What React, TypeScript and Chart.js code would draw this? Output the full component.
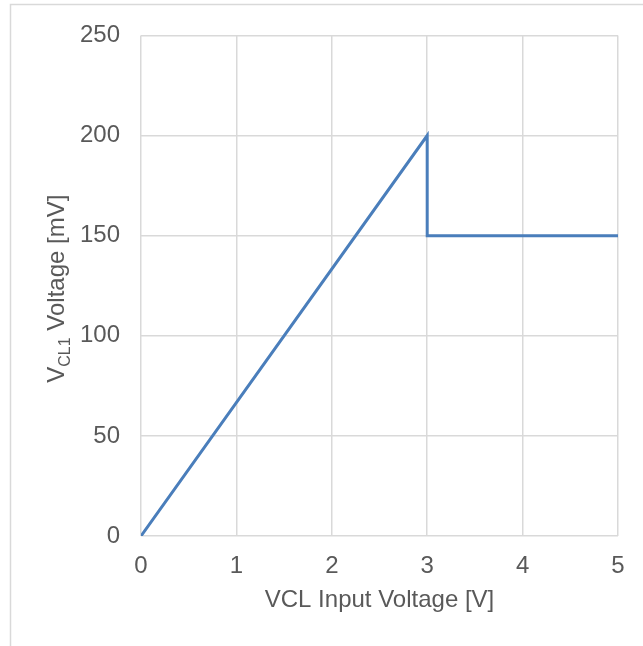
import React, { useEffect, useRef } from "react";
import { Chart, registerables } from "chart.js";

Chart.register(...registerables);

const inputVoltage = [0, 3, 3, 5];
const outputVoltage = [0, 200, 150, 150];
const xTicks = [0, 1, 2, 3, 4, 5];
const yTicks = [0, 50, 100, 150, 200, 250];
const xTitle = "VCL Input Voltage [V]";
const yTitleMain = "V";
const yTitleSub = "CL1";
const yTitleRest = " Voltage [mV]";

const FONT = "'Liberation Sans', Arial, sans-serif";
const TEXT = "#595959";
const GRID = "#d9d9d9";

const framePlugin = {
  id: "frame",
  beforeDraw(chart: any) {
    const ctx = chart.ctx;
    ctx.save();
    ctx.fillStyle = "#ffffff";
    ctx.fillRect(0, 0, chart.width, chart.height);
    ctx.strokeStyle = GRID;
    ctx.lineWidth = 1.5;
    ctx.strokeRect(10.5, 4.5, 800, 800);
    ctx.restore();
  },
  afterDraw(chart: any) {
    const ctx = chart.ctx;
    const area = chart.chartArea;
    ctx.save();
    ctx.fillStyle = TEXT;
    ctx.textBaseline = "alphabetic";
    ctx.textAlign = "left";
    const big = `24px ${FONT}`;
    const small = `16px ${FONT}`;
    ctx.font = big;
    const w1 = ctx.measureText(yTitleMain).width;
    const w3 = ctx.measureText(yTitleRest).width;
    ctx.font = small;
    const w2 = ctx.measureText(yTitleSub).width;
    const total = w1 + w2 + w3;
    const cy = (area.top + area.bottom) / 2 + 3;
    ctx.translate(63.5, cy + total / 2);
    ctx.rotate(-Math.PI / 2);
    ctx.font = big;
    ctx.fillText(yTitleMain, 0, 0);
    ctx.font = small;
    ctx.fillText(yTitleSub, w1, 6);
    ctx.font = big;
    ctx.fillText(yTitleRest, w1 + w2, 0);
    ctx.restore();
  },
};

export default function App() {
  const ref = useRef<HTMLCanvasElement | null>(null);

  useEffect(() => {
    if (!ref.current) return;
    const data = inputVoltage.map((x, i) => ({ x, y: outputVoltage[i] }));
    const chart = new Chart(ref.current, {
      type: "scatter",
      data: {
        datasets: [
          {
            data,
            showLine: true,
            borderColor: "#4a7ebb",
            borderWidth: 3,
            pointRadius: 0,
            pointHoverRadius: 0,
            fill: false,
            tension: 0,
          },
        ],
      },
      options: {
        responsive: false,
        animation: false,
        events: [],
        layout: { padding: { left: 0, top: 34, right: 25, bottom: 0 } },
        plugins: {
          legend: { display: false },
          tooltip: { enabled: false },
          title: { display: false },
        },
        scales: {
          x: {
            type: "linear",
            min: xTicks[0],
            max: xTicks[xTicks.length - 1],
            afterBuildTicks: (s: any) => {
              s.ticks = xTicks.map((v) => ({ value: v }));
            },
            afterFit: (s: any) => {
              s.height = 110;
            },
            grid: { color: GRID, lineWidth: 1.5, drawTicks: false },
            border: { display: false },
            ticks: {
              padding: 16,
              color: TEXT,
              font: { family: FONT, size: 24 },
              maxRotation: 0,
            },
            title: {
              display: true,
              text: xTitle,
              color: TEXT,
              font: { family: FONT, size: 24 },
              padding: { top: 0, bottom: 31 },
            },
          },
          y: {
            type: "linear",
            min: yTicks[0],
            max: yTicks[yTicks.length - 1],
            afterBuildTicks: (s: any) => {
              s.ticks = yTicks.map((v) => ({ value: v }));
            },
            afterFit: (s: any) => {
              s.width = 141;
            },
            grid: { color: GRID, lineWidth: 1.5, drawTicks: false },
            border: { display: false },
            ticks: {
              padding: 21,
              color: TEXT,
              font: { family: FONT, size: 24 },
            },
          },
        },
      },
      plugins: [framePlugin],
    });
    return () => chart.destroy();
  }, []);

  return (
    <div style={{ position: "fixed", left: 0, top: 0, width: 643, height: 646, background: "#fff" }}>
      <canvas ref={ref} width={643} height={646} style={{ display: "block" }} />
    </div>
  );
}
